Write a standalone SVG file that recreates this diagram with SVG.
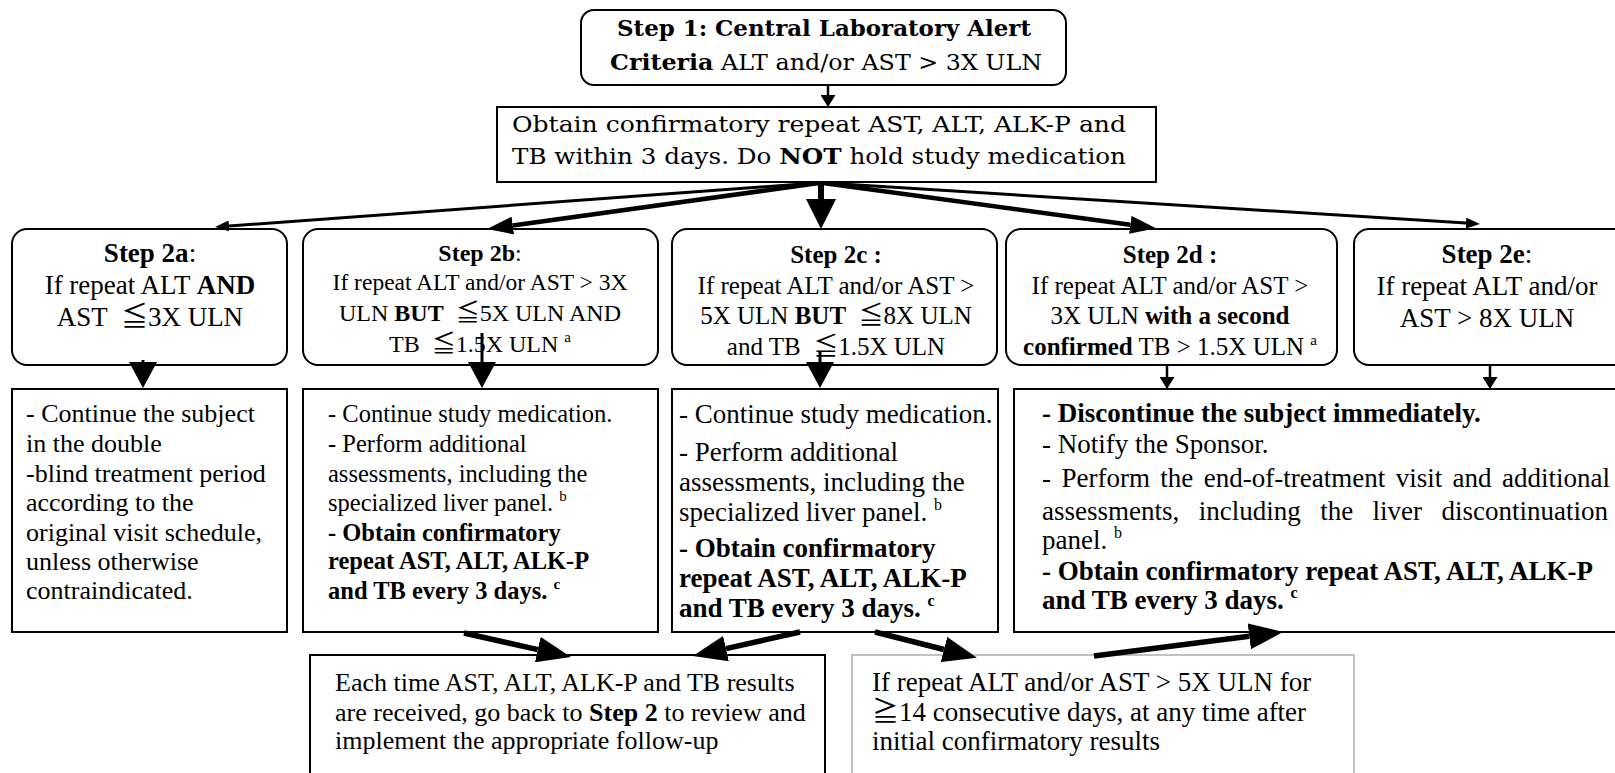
<svg xmlns="http://www.w3.org/2000/svg" width="1615" height="773" viewBox="0 0 1615 773">
<style>
.box{fill:#fff;stroke:#000;stroke-width:2}
.thin{fill:#fff;stroke:#999;stroke-width:1.2}
.t{font-family:"Liberation Serif","Noto Sans CJK JP",serif;fill:#000}
.c{font-family:"DejaVu Serif","Noto Sans CJK JP",serif;fill:#000}
.b{font-weight:bold}
.mid{text-anchor:middle}
.ln{stroke:#000;fill:none}
</style>
<defs>
<marker id="sm" markerUnits="userSpaceOnUse" markerWidth="14" markerHeight="11" refX="0" refY="5.5" orient="auto"><path d="M0,0 L14,5.5 L0,11 z" fill="#000"/></marker>
<marker id="md" markerUnits="userSpaceOnUse" markerWidth="26" markerHeight="18" refX="0" refY="9" orient="auto"><path d="M0,0 L26,9 L0,18 z" fill="#000"/></marker>
<marker id="lg" markerUnits="userSpaceOnUse" markerWidth="30" markerHeight="30" refX="0" refY="15" orient="auto"><path d="M0,0 L30,15 L0,30 z" fill="#000"/></marker>
<marker id="bg" markerUnits="userSpaceOnUse" markerWidth="34" markerHeight="26" refX="0" refY="13" orient="auto"><path d="M0,0 L34,13 L0,26 z" fill="#000"/></marker>
<marker id="tri" markerUnits="userSpaceOnUse" markerWidth="26" markerHeight="28" refX="0" refY="14" orient="auto"><path d="M0,0 L26,14 L0,28 z" fill="#000"/></marker>
<marker id="tiny" markerUnits="userSpaceOnUse" markerWidth="12" markerHeight="15" refX="0" refY="7.5" orient="auto"><path d="M0,0 L12,7.5 L0,15 z" fill="#000"/></marker>
</defs>
<rect width="1615" height="773" fill="#fff"/>

<g id="step1">
<rect class="box" x="581" y="10" width="485" height="75" rx="13"/>
<text class="c b mid" x="824" y="36" font-size="21.5" textLength="414" lengthAdjust="spacingAndGlyphs">Step 1: Central Laboratory Alert</text>
<text class="c mid" x="826" y="70" font-size="21.5" textLength="432" lengthAdjust="spacingAndGlyphs"><tspan class="b">Criteria</tspan> ALT and/or AST &gt; 3X ULN</text>
</g>

<g id="confirm">
<rect class="box" x="497" y="107" width="659" height="75"/>
<text class="c" x="512" y="132" font-size="22" textLength="614" lengthAdjust="spacingAndGlyphs">Obtain confirmatory repeat AST, ALT, ALK-P and</text>
<text class="c" x="512" y="164" font-size="22" textLength="614" lengthAdjust="spacingAndGlyphs">TB within 3 days. Do <tspan class="b">NOT</tspan> hold study medication</text>
</g>

<g id="step2a">
<rect class="box" x="12" y="229" width="275" height="136" rx="15"/>
<text class="t mid" x="150" y="262" font-size="27"><tspan class="b">Step 2a</tspan>:</text>
<text class="t mid" x="150" y="294" font-size="27">If repeat ALT <tspan class="b">AND</tspan></text>
<text class="t mid" x="150" y="326" font-size="27" xml:space="preserve">AST  ≦3X ULN</text>
</g>

<g id="step2b">
<rect class="box" x="303" y="229" width="355" height="136" rx="15"/>
<text class="t mid" x="480" y="261" font-size="24"><tspan class="b">Step 2b</tspan>:</text>
<text class="t mid" x="480" y="290" font-size="23.5">If repeat ALT and/or AST &gt; 3X</text>
<text class="t mid" x="480" y="321" font-size="24" xml:space="preserve">ULN <tspan class="b">BUT</tspan>  ≦5X ULN AND</text>
<text class="t mid" x="480" y="352" font-size="24" xml:space="preserve">TB  ≦1.5X ULN <tspan font-size="15" dy="-10">a</tspan></text>
</g>

<g id="step2c">
<rect class="box" x="672" y="229" width="325" height="136" rx="15"/>
<text class="t b mid" x="836" y="263" font-size="25">Step 2c :</text>
<text class="t mid" x="836" y="294" font-size="25">If repeat ALT and/or AST &gt;</text>
<text class="t mid" x="836" y="324" font-size="25" xml:space="preserve">5X ULN <tspan class="b">BUT</tspan>  ≦8X ULN</text>
<text class="t mid" x="836" y="355" font-size="25" xml:space="preserve">and TB  ≦1.5X ULN</text>
</g>

<g id="step2d">
<rect class="box" x="1006" y="229" width="331" height="136" rx="15"/>
<text class="t b mid" x="1170" y="263" font-size="25">Step 2d :</text>
<text class="t mid" x="1170" y="294" font-size="25">If repeat ALT and/or AST &gt;</text>
<text class="t mid" x="1170" y="324" font-size="25">3X ULN <tspan class="b">with a second</tspan></text>
<text class="t mid" x="1170" y="355" font-size="25"><tspan class="b">confirmed</tspan> TB &gt; 1.5X ULN <tspan font-size="15" dy="-10">a</tspan></text>
</g>

<g id="step2e">
<rect class="box" x="1354" y="229" width="300" height="136" rx="15"/>
<text class="t mid" x="1487" y="263" font-size="27"><tspan class="b">Step 2e</tspan>:</text>
<text class="t mid" x="1487" y="295" font-size="27">If repeat ALT and/or</text>
<text class="t mid" x="1487" y="327" font-size="27">AST &gt; 8X ULN</text>
</g>

<g id="actionA">
<rect class="box" x="12" y="389" width="275" height="243"/>
<text class="t" font-size="26"><tspan x="26" y="422">- Continue the subject</tspan><tspan x="26" y="452">in the double</tspan><tspan x="26" y="482">-blind treatment period</tspan><tspan x="26" y="511">according to the</tspan><tspan x="26" y="541">original visit schedule,</tspan><tspan x="26" y="570">unless otherwise</tspan><tspan x="26" y="599">contraindicated.</tspan></text>
</g>

<g id="actionB">
<rect class="box" x="303" y="389" width="355" height="243"/>
<text class="t" font-size="24.5"><tspan x="328" y="422">- Continue study medication.</tspan><tspan x="328" y="452">- Perform additional</tspan><tspan x="328" y="482">assessments, including the</tspan><tspan x="328" y="511">specialized liver panel. </tspan><tspan font-size="15" dy="-10">b</tspan></text>
<text class="t b" font-size="24.5"><tspan x="328" y="541">- Obtain confirmatory</tspan><tspan x="328" y="569">repeat AST, ALT, ALK-P</tspan><tspan x="328" y="599">and TB every 3 days. </tspan><tspan font-size="15" dy="-10">c</tspan></text>
</g>

<g id="actionC">
<rect class="box" x="672" y="389" width="326" height="243"/>
<text class="t" font-size="27"><tspan x="679" y="423">- Continue study medication.</tspan><tspan x="679" y="461">- Perform additional</tspan><tspan x="679" y="491">assessments, including the</tspan><tspan x="679" y="521">specialized liver panel. </tspan><tspan font-size="16" dy="-11">b</tspan></text>
<text class="t b" font-size="27"><tspan x="679" y="557">- Obtain confirmatory</tspan><tspan x="679" y="587">repeat AST, ALT, ALK-P</tspan><tspan x="679" y="617">and TB every 3 days. </tspan><tspan font-size="16" dy="-11">c</tspan></text>
</g>

<g id="actionD">
<rect class="box" x="1014" y="389" width="640" height="243"/>
<text class="t b" x="1042" y="422" font-size="27">- Discontinue the subject immediately.</text>
<text class="t" x="1042" y="453" font-size="27">- Notify the Sponsor.</text>
<text class="t" x="1042" y="487" font-size="27" word-spacing="3.7">- Perform the end-of-treatment visit and additional</text>
<text class="t" x="1042" y="520" font-size="27" word-spacing="12.7">assessments, including the liver discontinuation</text>
<text class="t" x="1042" y="549" font-size="27">panel. <tspan font-size="16" dy="-11">b</tspan></text>
<text class="t b" x="1042" y="580" font-size="27">- Obtain confirmatory repeat AST, ALT, ALK-P</text>
<text class="t b" x="1042" y="609" font-size="27">and TB every 3 days. <tspan font-size="16" dy="-11">c</tspan></text>
</g>

<g id="review">
<rect class="box" x="310" y="655" width="515" height="140"/>
<text class="t" font-size="26"><tspan x="335" y="691">Each time AST, ALT, ALK-P and TB results</tspan><tspan x="335" y="721">are received, go back to <tspan class="b">Step 2</tspan> to review and</tspan><tspan x="335" y="749">implement the appropriate follow-up</tspan></text>
</g>

<g id="persist">
<rect class="thin" x="852" y="655" width="502" height="140"/>
<text class="t" font-size="27"><tspan x="872" y="691">If repeat ALT and/or AST &gt; 5X ULN for</tspan><tspan x="872" y="721">≧14 consecutive days, at any time after</tspan><tspan x="872" y="750">initial confirmatory results</tspan></text>
</g>

<g id="connectors">
<line class="ln" x1="828" y1="85" x2="828" y2="95" stroke-width="2.5" marker-end="url(#tiny)"/>
<line class="ln" x1="816" y1="183" x2="229" y2="226" stroke-width="3" marker-end="url(#sm)"/>
<line class="ln" x1="819" y1="183" x2="512.8" y2="225.5" stroke-width="4.5" marker-end="url(#md)"/>
<line class="ln" x1="821" y1="183" x2="821" y2="199" stroke-width="6" marker-end="url(#lg)"/>
<line class="ln" x1="823" y1="183" x2="1130.3" y2="224.8" stroke-width="4.5" marker-end="url(#md)"/>
<line class="ln" x1="826" y1="183" x2="1466" y2="223.1" stroke-width="3" marker-end="url(#sm)"/>
<line class="ln" x1="143" y1="360" x2="143" y2="362" stroke-width="3" marker-end="url(#tri)"/>
<line class="ln" x1="482" y1="333" x2="482" y2="362" stroke-width="3" marker-end="url(#tri)"/>
<line class="ln" x1="820" y1="352" x2="820" y2="362" stroke-width="3" marker-end="url(#tri)"/>
<line class="ln" x1="1167" y1="365" x2="1167" y2="377" stroke-width="2.5" marker-end="url(#tiny)"/>
<line class="ln" x1="1490" y1="365" x2="1490" y2="377" stroke-width="2.5" marker-end="url(#tiny)"/>
<line class="ln" x1="464" y1="633" x2="537.8" y2="649.6" stroke-width="5.5" marker-end="url(#bg)"/>
<line class="ln" x1="800" y1="632" x2="726" y2="648.6" stroke-width="5.5" marker-end="url(#bg)"/>
<line class="ln" x1="875" y1="632" x2="944" y2="649.5" stroke-width="5.5" marker-end="url(#bg)"/>
<line class="ln" x1="1094" y1="656" x2="1249.3" y2="636.3" stroke-width="5.5" marker-end="url(#bg)"/>
</g>
</svg>
